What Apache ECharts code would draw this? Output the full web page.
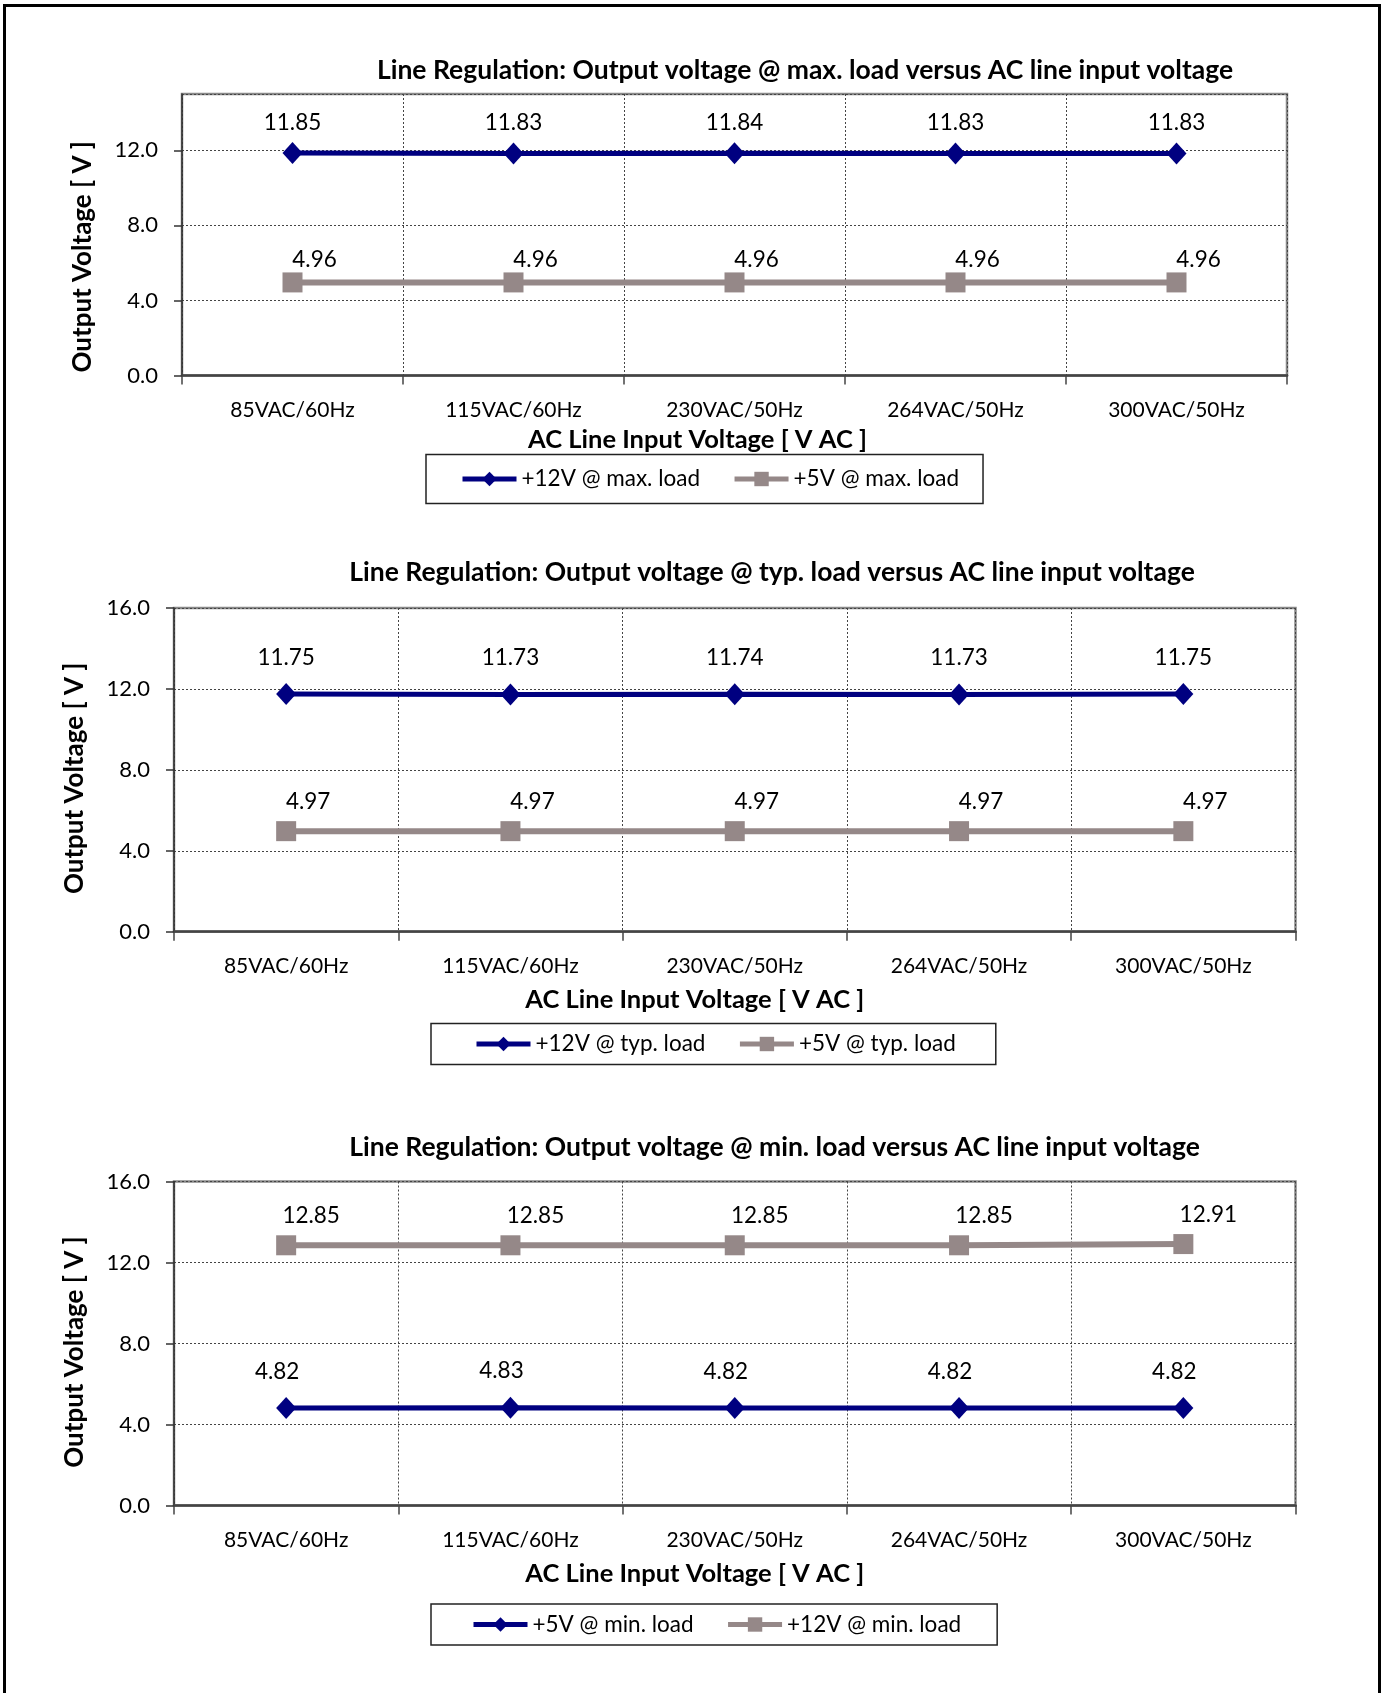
<!DOCTYPE html>
<html>
<head>
<meta charset="utf-8">
<script src="https://cdn.jsdelivr.net/npm/echarts@6/dist/echarts.min.js"></script>
<style>
  html, body { margin: 0; padding: 0; background: #fff; }
  #chart { position: absolute; left: 0; top: 0; width: 1383px; height: 1693px; }
  #frame { position: absolute; left: 3px; top: 4px; width: 1372px; height: 1700px;
           border: 3px solid #000; border-bottom: none; pointer-events: none; }
</style>
</head>
<body>
<div id="chart"></div>
<div id="frame"></div>
<script>
// ---- data ----
const categories = ['85VAC/60Hz', '115VAC/60Hz', '230VAC/50Hz', '264VAC/50Hz', '300VAC/50Hz'];

const titles = [
  'Line Regulation: Output voltage @ max. load versus AC line input voltage',
  'Line Regulation: Output voltage @ typ. load versus AC line input voltage',
  'Line Regulation: Output voltage @ min. load versus AC line input voltage'
];
const xAxisName = 'AC Line Input Voltage [ V AC ]';
const yAxisName = 'Output Voltage [ V ]';

const maxLoadNames = ['+12V @ max. load', '+5V @ max. load'];
const maxLoad12V = [11.85, 11.83, 11.84, 11.83, 11.83];
const maxLoad5V  = [4.96, 4.96, 4.96, 4.96, 4.96];

const typLoadNames = ['+12V @ typ. load', '+5V @ typ. load'];
const typLoad12V = [11.75, 11.73, 11.74, 11.73, 11.75];
const typLoad5V  = [4.97, 4.97, 4.97, 4.97, 4.97];

const minLoadNames = ['+5V @ min. load', '+12V @ min. load'];
const minLoad5V  = [4.82, 4.83, 4.82, 4.82, 4.82];
const minLoad12V = [12.85, 12.85, 12.85, 12.85, 12.91];

const yMax = [15, 16, 16];
const yInterval = 4;

// ---- styles ----
const FONT = 'Lato';
const NAVY = '#000080';
const MAUVE = '#958888';

const grids = [
  { left: 182, top: 94, width: 1105, height: 281.5, show: true, borderColor: '#888', borderWidth: 2.5 },
  { left: 174, top: 608, width: 1121.5, height: 323.7, show: true, borderColor: '#888', borderWidth: 2.5 },
  { left: 174, top: 1181.5, width: 1121.5, height: 324, show: true, borderColor: '#888', borderWidth: 2.5 }
];
const titlePos = [ {x: 805, y: 57}, {x: 772, y: 559}, {x: 774.5, y: 1134} ];
const xNamePad = [74, 80, 80];
const xNameGap = [51, 55, 55];
const yNamePad = [44, 17, 17];
const legendPos = [
  { left: 426, top: 454.5, padding: [13, 24, 13, 34] },
  { left: 431, top: 1023.5, padding: [9, 40, 9, 43] },
  { left: 431, top: 1604, padding: [9, 36, 9, 40] }
];

const dotted = { type: [2, 2], color: '#444', width: 1 };

function xAxis(i) {
  return {
    type: 'category', gridIndex: i, data: categories, boundaryGap: true,
    axisLine: { show: true, lineStyle: { color: '#444', width: 2.5 } },
    axisTick: { show: true, length: 9, lineStyle: { color: '#444', width: 1.5 } },
    axisLabel: { fontFamily: FONT, fontSize: 21, color: '#000', margin: 24 },
    splitLine: { show: true, lineStyle: dotted },
    name: xAxisName, nameLocation: 'middle', nameGap: xNameGap[i],
    nameTextStyle: { fontFamily: FONT, fontWeight: 'bold', fontSize: 25.5, color: '#000',
                     padding: [0, xNamePad[i], 0, 0] }
  };
}
function yAxis(i) {
  return {
    type: 'value', gridIndex: i, min: 0, max: yMax[i], interval: yInterval,
    axisLine: { show: true, lineStyle: { color: '#333', width: 1.5 } },
    axisTick: { show: true, length: 8, lineStyle: { color: '#333', width: 1.5 } },
    axisLabel: { fontFamily: FONT, fontSize: 22, color: '#000', margin: 24,
                 showMaxLabel: yMax[i] % yInterval === 0,
                 formatter: v => v.toFixed(1) },
    splitLine: { show: true, lineStyle: dotted },
    name: yAxisName, nameLocation: 'middle', nameRotate: 90, nameGap: 86,
    nameTextStyle: { fontFamily: FONT, fontWeight: 'bold', fontSize: 26, color: '#000',
                     padding: [0, yNamePad[i], 0, 0] }
  };
}

function navySeries(i, name, data, lblOff) {
  return {
    type: 'line', name, data, xAxisIndex: i, yAxisIndex: i,
    symbol: 'diamond', symbolSize: [20, 22], showAllSymbol: true,
    lineStyle: { color: NAVY, width: 5 }, itemStyle: { color: NAVY },
    label: { show: true, position: 'top', distance: 0, offset: lblOff,
             fontFamily: FONT, fontSize: 22.5, color: '#000', formatter: p => p.value.toFixed(2) },
    emphasis: { disabled: true }, animation: false, z: 3
  };
}
function mauveSeries(i, name, data, lblOff) {
  return {
    type: 'line', name, data, xAxisIndex: i, yAxisIndex: i,
    symbol: 'rect', symbolSize: 20, showAllSymbol: true,
    lineStyle: { color: MAUVE, width: 6 }, itemStyle: { color: MAUVE },
    label: { show: true, position: 'top', distance: 0, offset: lblOff,
             fontFamily: FONT, fontSize: 22.5, color: '#000', formatter: p => p.value.toFixed(2) },
    emphasis: { disabled: true }, animation: false, z: 2
  };
}

const legendNames = [maxLoadNames, typLoadNames, minLoadNames];

const option = {
  backgroundColor: 'transparent',
  animation: false,
  title: titles.map((t, i) => ({
    text: t, left: titlePos[i].x, top: titlePos[i].y, textAlign: 'center', padding: 0,
    textStyle: { fontFamily: FONT, fontWeight: 'bold', fontSize: 26.5, color: '#000' }
  })),
  legend: legendNames.map((names, i) => ({
    data: names, left: legendPos[i].left, top: legendPos[i].top, padding: legendPos[i].padding,
    orient: 'horizontal', itemGap: 32, itemWidth: 54, itemHeight: 18,
    lineStyle: { width: 5 },
    borderColor: '#222', borderWidth: 1.5, backgroundColor: '#fff',
    textStyle: { fontFamily: FONT, fontSize: 22.5, color: '#000' },
    selectedMode: false
  })),
  grid: grids,
  xAxis: [0, 1, 2].map(xAxis),
  yAxis: [0, 1, 2].map(yAxis),
  series: [
    mauveSeries(0, maxLoadNames[1], maxLoad5V, [22, -1]),
    navySeries(0, maxLoadNames[0], maxLoad12V, [0, -8]),
    mauveSeries(1, typLoadNames[1], typLoad5V, [22, -8]),
    navySeries(1, typLoadNames[0], typLoad12V, [0, -14]),
    mauveSeries(2, minLoadNames[1], minLoad12V, [25, -8]),
    navySeries(2, minLoadNames[0], minLoad5V, [-9, -14])
  ]
};

const chart = echarts.init(document.getElementById('chart'), null, { renderer: 'canvas' });
chart.setOption(option);
</script>
</body>
</html>
